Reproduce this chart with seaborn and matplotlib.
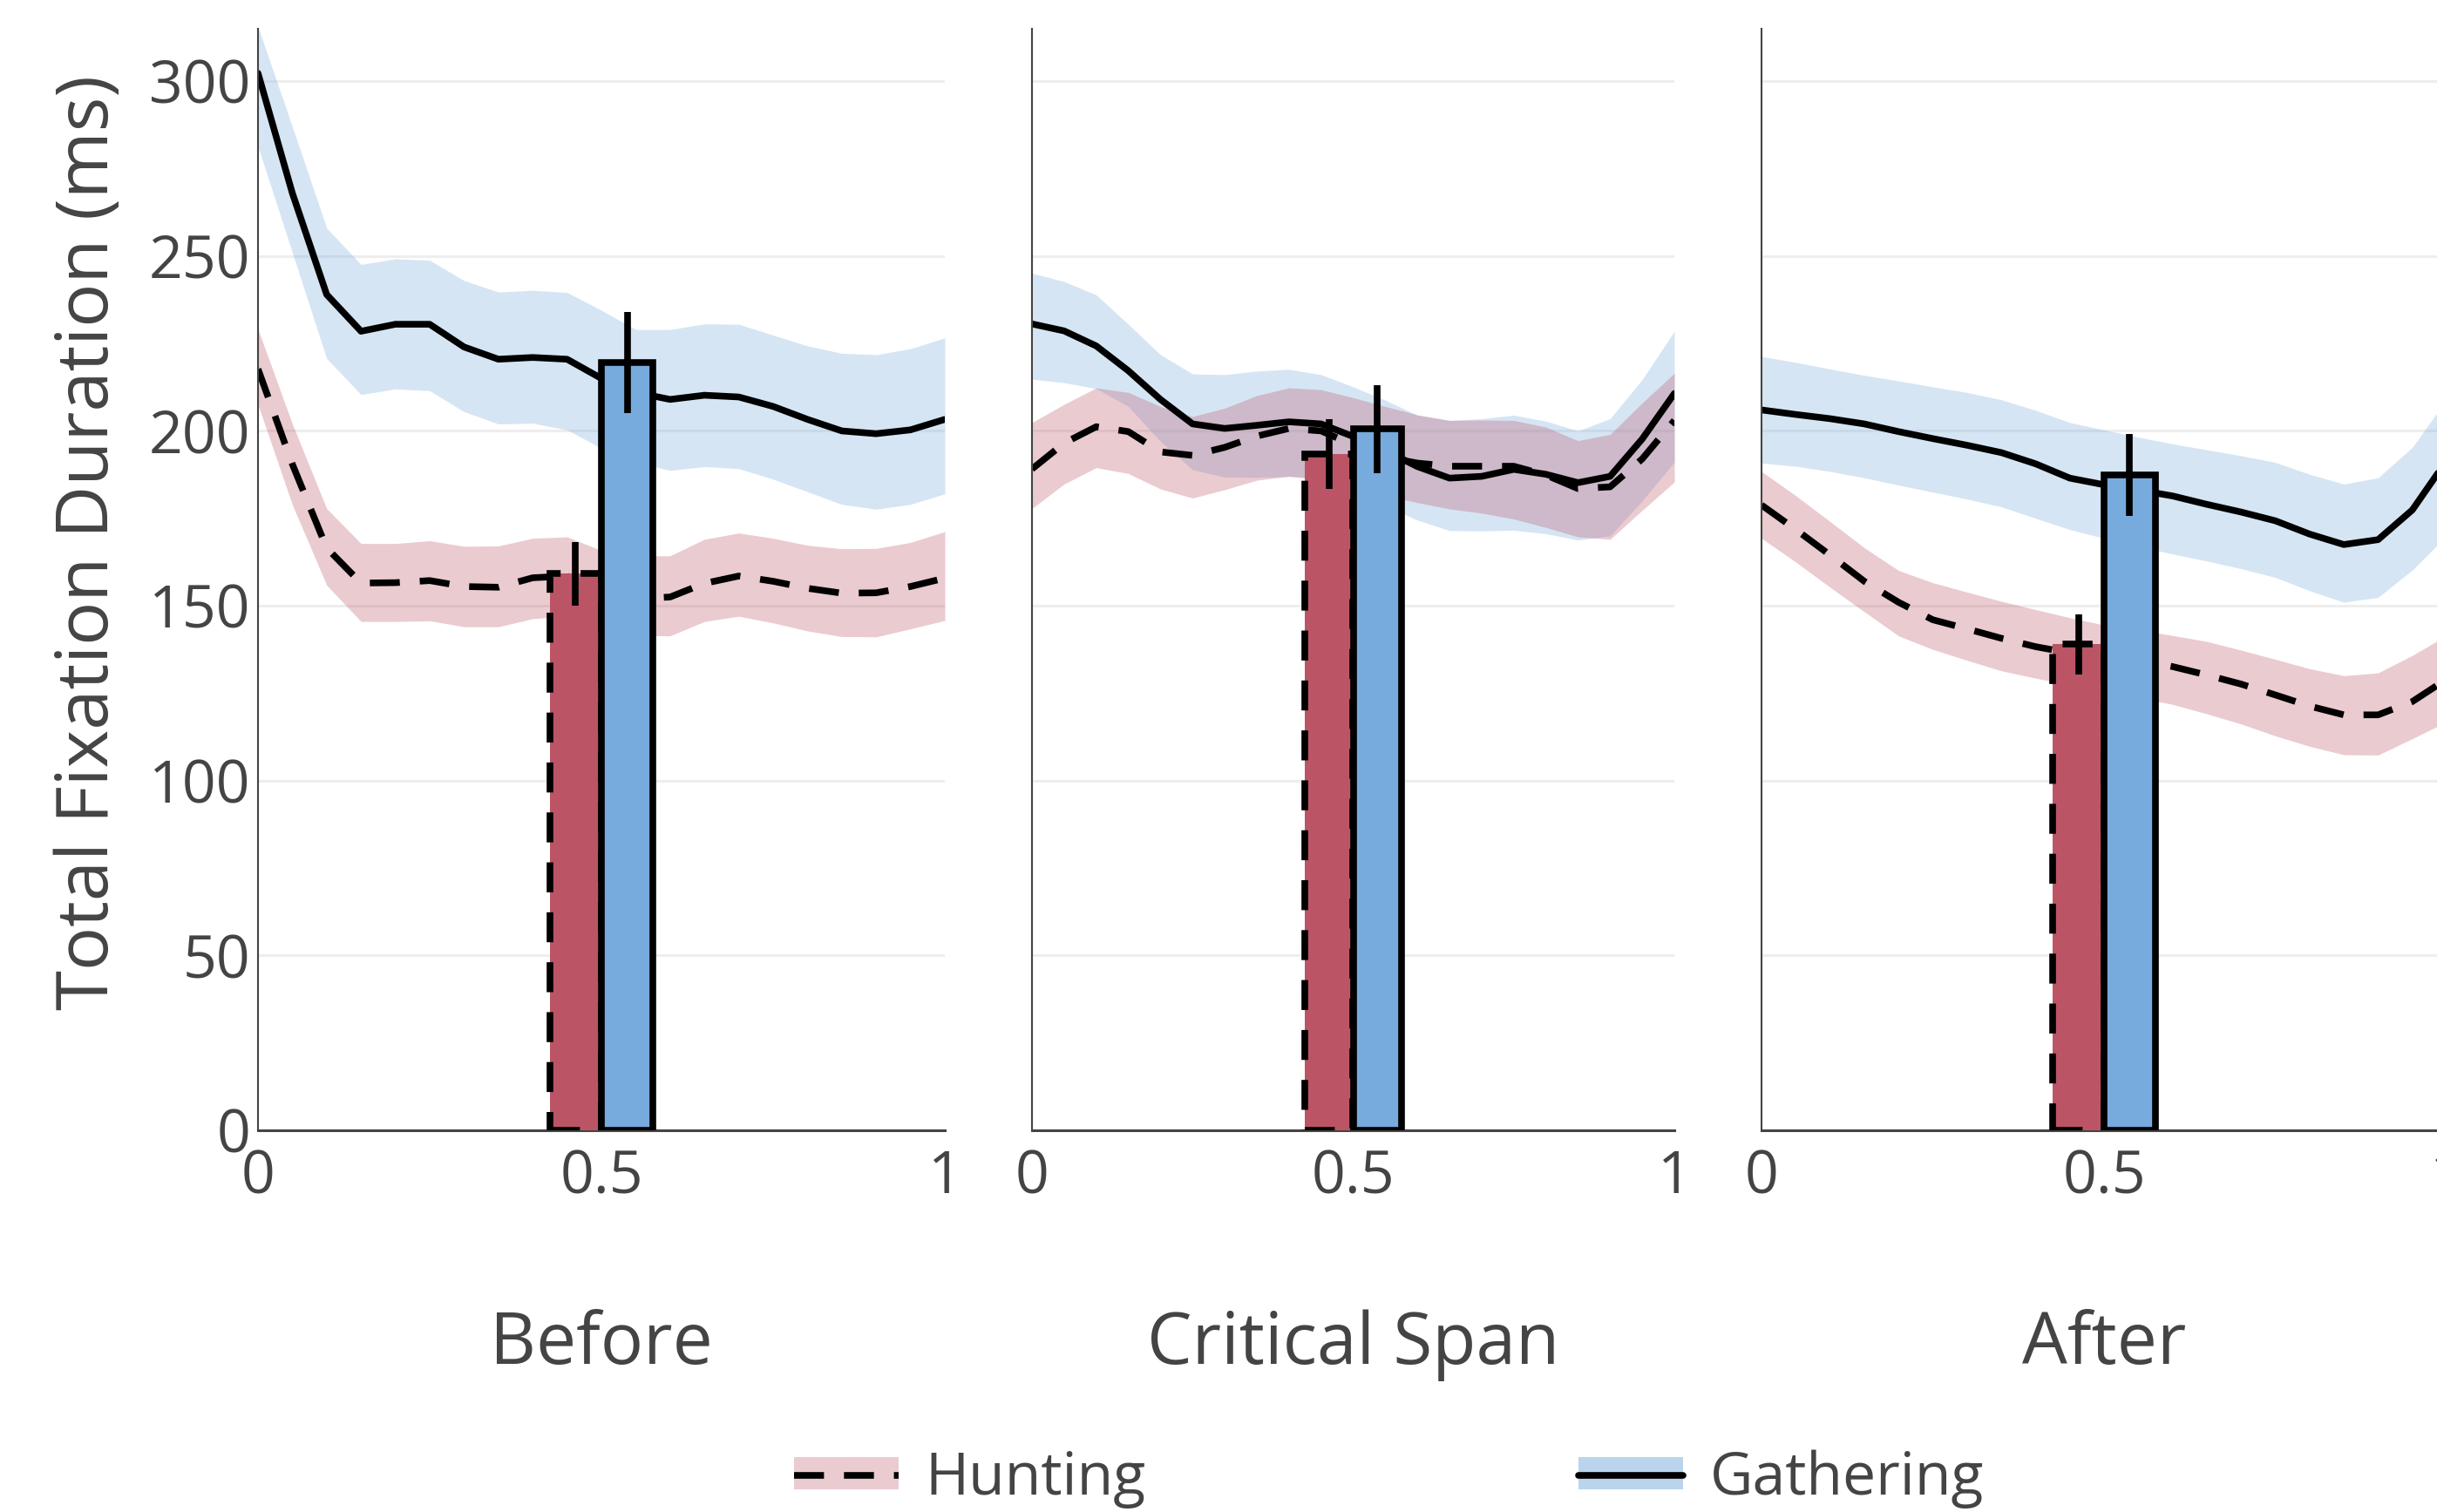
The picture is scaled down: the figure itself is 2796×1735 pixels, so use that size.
import seaborn as sns
import matplotlib.pyplot as plt
from matplotlib.patches import Patch
from matplotlib.lines import Line2D


# sample positions along each region (normalised 0..1)
x_pos = [0.0, 0.05, 0.1, 0.15, 0.2, 0.25, 0.3, 0.35, 0.4, 0.45, 0.5,
         0.55, 0.6, 0.65, 0.7, 0.75, 0.8, 0.85, 0.9, 0.95, 1.0]

regions = ['Before', 'Critical Span', 'After']

# Before
before_gath_mean = [302.3, 268, 239, 228.5, 230.5, 230.5, 224, 220.5, 221, 220.5, 215,
                    211, 209, 210.2, 209.7, 207, 203.3, 200, 199.2, 200.3, 203.3]
before_gath_lo = [281.3, 251, 220.7, 210.4, 212, 211.5, 205.5, 202, 202.2, 200.3, 195,
                  191, 188.7, 189.8, 189.2, 186.2, 182.6, 179, 177.6, 179, 182]
before_gath_hi = [315.6, 287, 258, 247.6, 249.2, 248.8, 243, 239.7, 240.2, 239.6, 234.5,
                  229, 229, 230.6, 230.5, 227.4, 224.3, 222.2, 221.8, 223.5, 226.6]
before_hunt_mean = [217.7, 190.5, 166.5, 156.5, 156.6, 157.2, 155.5, 155.3, 158, 158.5, 155,
                    152, 152.5, 156.4, 158.5, 157, 155, 153.6, 153.7, 155.5, 157.9]
before_hunt_lo = [207.5, 178.9, 155.9, 145.5, 145.5, 145.7, 144, 144, 146.3, 147, 144.5,
                  141.5, 141.4, 145.5, 147, 145.1, 142.8, 141.2, 141.1, 143.4, 145.8]
before_hunt_hi = [229.1, 202, 177.8, 167.8, 167.8, 168.6, 167, 167.1, 169.3, 169.7, 165.8,
                  164.2, 164.3, 169, 170.8, 169.3, 167.3, 166.3, 166.4, 168.1, 171.2]

# Critical span
critical_gath_mean = [230.6, 228.6, 224.3, 217.2, 209, 202, 200.7, 201.6, 202.6, 202, 198.4,
                      194.4, 189.8, 186.5, 187, 189, 187.6, 185.2, 187, 197.7, 210.7]
critical_gath_lo = [214.8, 213.8, 212.1, 207, 197, 188.9, 186.8, 186.7, 187, 186.6, 182.5,
                    178.5, 174.5, 171.5, 171.4, 171.6, 170.6, 168.8, 170, 180, 191.1]
critical_gath_hi = [245.1, 242.7, 238.9, 230.5, 221.8, 216.3, 216.1, 217.1, 217.6, 216.1, 212.6,
                    208.8, 204.5, 203, 203.5, 204.5, 202.8, 200, 203.5, 214.7, 228.5]
critical_hunt_mean = [189.1, 196.5, 201.2, 199.8, 194, 193, 195.3, 198.5, 200.7, 200, 196,
                      192.5, 190.8, 189.9, 189.9, 189.9, 187.4, 183.5, 184, 192, 203]
critical_hunt_lo = [177.8, 184.8, 189.5, 187.8, 183.4, 180.8, 183.2, 185.9, 187, 186, 184,
                    181.5, 179.5, 177.7, 176.5, 174.8, 172.4, 169.7, 169, 177.3, 185.4]
critical_hunt_hi = [202.4, 207.6, 212.3, 211, 207, 204.1, 206.5, 210.1, 212.3, 211.8, 209.5,
                    207, 204.6, 203, 203.1, 203, 201.1, 197.2, 199, 208, 216.5]

# After
after_gath_mean = [206, 204.7, 203.5, 202, 199.8, 197.8, 195.9, 193.8, 190.6, 186.5, 184.6,
                   183.1, 181.4, 179, 176.8, 174.3, 170.5, 167.5, 168.9, 177.4, 191.5]
after_gath_lo = [190.8, 189.9, 188.4, 186.6, 184.5, 182.5, 180.5, 178.3, 175, 171.8, 169.3,
                 167, 164.8, 162.8, 160.6, 158.1, 154.3, 151, 152.4, 160.2, 170]
after_gath_hi = [221.3, 219.6, 217.7, 215.9, 214.3, 212.6, 211, 208.9, 205.9, 202.4, 200.3,
                 198.2, 196.3, 194.6, 192.9, 191, 187.6, 184.8, 186.6, 195.3, 209]
after_hunt_mean = [178.8, 171.8, 164.5, 157, 151, 146, 143.4, 140.7, 138.3, 136.5, 135.5,
                   134.5, 132.6, 130.2, 127.6, 124.5, 121.3, 118.8, 118.8, 122.6, 129]
after_hunt_lo = [169.3, 162.5, 155.3, 148.3, 141.4, 137.5, 134.4, 131.4, 129.3, 127.3, 125.5,
                 123.7, 121.8, 119.1, 116.2, 112.8, 109.8, 107.4, 107.3, 112, 116.8]
after_hunt_hi = [188.4, 181.5, 174.1, 166.6, 160.1, 156.6, 153.9, 151.3, 148.9, 146.6, 144.5,
                 143.1, 141.5, 139.8, 137.3, 134.7, 132, 130, 130.8, 135.8, 141.5]

# region totals (bars) with error
bar_hunt = [159.2, 193.4, 139.0]
bar_hunt_err = [9.1, 10.0, 8.6]
bar_gath = [219.6, 200.5, 187.4]
bar_gath_err = [14.5, 12.5, 11.8]

curves = {
    'Before': (before_hunt_mean, before_hunt_lo, before_hunt_hi,
               before_gath_mean, before_gath_lo, before_gath_hi),
    'Critical Span': (critical_hunt_mean, critical_hunt_lo, critical_hunt_hi,
                      critical_gath_mean, critical_gath_lo, critical_gath_hi),
    'After': (after_hunt_mean, after_hunt_lo, after_hunt_hi,
              after_gath_mean, after_gath_lo, after_gath_hi),
}

RED = '#BB5566'
BLUE = '#77AADD'
GREY = '#444444'
LW = 5.5
DASH = (0, (4.5, 3))

sns.set_theme(style="white")
plt.rcParams['font.family'] = ['Open Sans', 'DejaVu Sans']
plt.rcParams['text.color'] = GREY

W, H = 2796, 1735
fig = plt.figure(figsize=(W / 100, H / 100), dpi=100)

# pixel layout of the three panels: (left, width)
panel_px = [(296, 788), (1184, 737), (2021, 786)]
y0_px, ytop_px = 1297, 33
bar_w = 0.075

for i, (name, (left, width)) in enumerate(zip(regions, panel_px)):
    ax = fig.add_axes([left / W, (H - y0_px) / H, width / W, (y0_px - ytop_px) / H])
    hm, hl, hh, gm, gl, gh = curves[name]

    ax.fill_between(x_pos, gl, gh, color=BLUE, alpha=0.3, lw=0, zorder=1)
    ax.fill_between(x_pos, hl, hh, color=RED, alpha=0.3, lw=0, zorder=1)
    sns.lineplot(x=x_pos, y=gm, ax=ax, color='black', linewidth=LW,
                 errorbar=None, zorder=2)
    sns.lineplot(x=x_pos, y=hm, ax=ax, color='black', linewidth=LW,
                 linestyle=DASH, errorbar=None, zorder=2)

    ax.bar(0.5 - bar_w / 2, bar_hunt[i], width=bar_w, color=RED, edgecolor='black',
           linewidth=LW, linestyle=DASH, zorder=3)
    ax.bar(0.5 + bar_w / 2, bar_gath[i], width=bar_w, color=BLUE, edgecolor='black',
           linewidth=LW, zorder=3)
    ax.errorbar([0.5 - bar_w / 2, 0.5 + bar_w / 2], [bar_hunt[i], bar_gath[i]],
                yerr=[bar_hunt_err[i], bar_gath_err[i]], fmt='none', ecolor='black',
                elinewidth=5.5, capsize=0, zorder=4)

    ax.set_xlim(0, 1)
    ax.set_ylim(0, 315)
    ax.set_xticks([0, 0.5, 1])
    ax.set_xticklabels(['0', '0.5', '1'])
    ax.set_yticks(range(0, 301, 50))
    if i > 0:
        ax.set_yticklabels([])
    ax.set_xlabel('')
    ax.set_ylabel('')
    ax.yaxis.grid(True, color='#EEEEEE', linewidth=2.2)
    ax.xaxis.grid(False)
    ax.set_axisbelow(True)
    ax.tick_params(length=0, labelsize=49, colors=GREY)
    ax.tick_params(axis='x', pad=15)
    ax.tick_params(axis='y', pad=6)
    for s in ['top', 'right']:
        ax.spines[s].set_visible(False)
    ax.spines['left'].set_color(GREY)
    ax.spines['left'].set_linewidth(1.5)
    ax.spines['bottom'].set_color(GREY)
    ax.spines['bottom'].set_linewidth(2.2)

    fig.text((left + width / 2) / W, 1 - 1544 / H, name, ha='center', va='center',
             fontsize=59, color=GREY)

fig.text(103 / W, 1 - 622 / H, 'Total Fixation Duration (ms)', rotation=90,
         ha='center', va='center', fontsize=60, color=GREY)

h_hunt = (Patch(facecolor=RED, alpha=0.3, lw=0), Line2D([], [], color='black', lw=LW, linestyle=DASH))
h_gath = (Patch(facecolor=BLUE, alpha=0.5, lw=0), Line2D([], [], color='black', lw=LW))
fig.legend([h_hunt, h_gath], ['Hunting', 'Gathering'], loc='center',
           bbox_to_anchor=(0.57, 0.022), ncol=2, frameon=False, fontsize=49,
           handlelength=1.76, handleheight=0.46, handletextpad=0.45, columnspacing=7.3)

fig.savefig('out.png', dpi=100)
